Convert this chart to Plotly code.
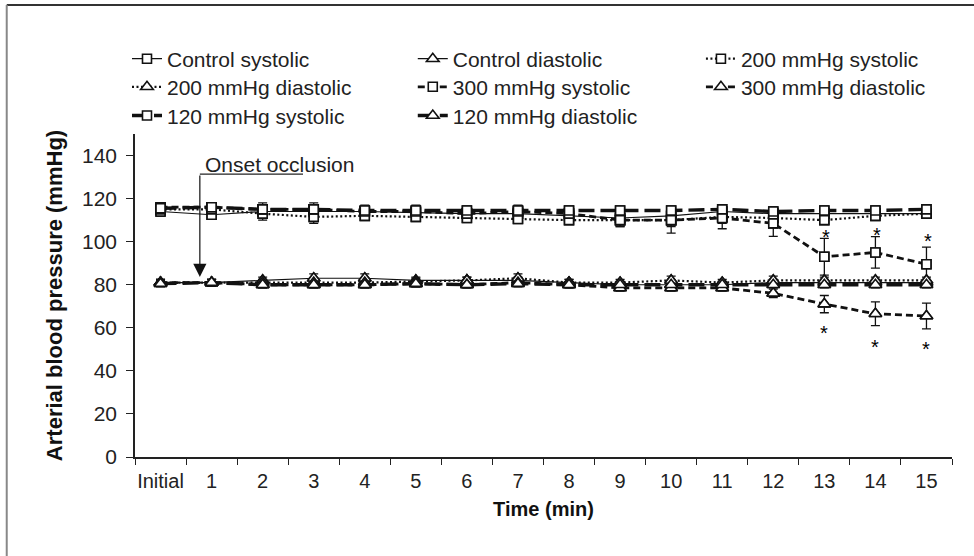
import plotly.graph_objects as go

categories = ["Initial"] + [str(i) for i in range(1, 16)]

ctrl_sys = [114, 112.5, 114, 114, 114, 113.5, 113, 113, 112, 111, 112, 114, 113, 113, 113, 113]
ctrl_sys_err = [2, 2, 2, 2, 2, 2, 2, 2, 2, 2, 3, 2, 2, 2, 2, 2]
ctrl_dia = [81, 81, 82, 83, 83, 82, 82, 82, 81, 80, 80, 80, 81, 81, 81, 81]
ctrl_dia_err = [1.5, 1.5, 1.5, 2, 2, 1.5, 1.5, 1.5, 1.5, 1.5, 1.5, 1.5, 1.5, 1.5, 1.5, 1.5]

s200_sys = [115, 115, 113, 111.5, 112, 111.5, 111, 110.5, 110, 110, 110, 111.5, 111, 110, 112, 113]
s200_sys_err = [2, 3, 3, 3, 2, 2, 2, 2, 2, 3, 3, 3, 2, 2, 2, 2]
s200_dia = [81, 81, 81, 81, 81, 81.5, 82, 83, 81, 81, 82, 81, 82, 82, 82, 82]
s200_dia_err = [1.5, 1.5, 1.5, 2, 2, 1.5, 1.5, 2, 1.5, 1.5, 2, 1.5, 2, 1.5, 1.5, 1.5]

s300_sys = [116, 116, 115, 115, 114, 114, 113, 114, 113, 110, 110, 111, 108.5, 93, 95, 89.5]
s300_sys_err = [2, 2, 3, 3, 3, 3, 3, 3, 3, 3, 6, 5, 6, 8.5, 7.3, 8]
s300_dia = [81, 81, 80, 80, 80, 80.5, 80, 81, 80, 78.5, 78.5, 78.5, 76, 71, 66.5, 65.5]
s300_dia_err = [1.5, 1.5, 1.5, 1.5, 1.5, 1.5, 1.5, 1.5, 1.5, 1.5, 1.5, 1.5, 2, 4, 5.5, 6]

s120_sys = [115.5, 116, 115, 115, 114.5, 114.5, 114.5, 114.5, 114.5, 114.5, 114.5, 115, 114, 114.5, 114.5, 115]
s120_sys_err = [2, 2, 2, 2, 2, 2, 2, 2, 2, 2, 2, 2, 2, 2, 2, 2]
s120_dia = [80.5, 81, 80, 80, 80, 80.5, 80, 80.5, 80, 80, 80, 80, 80, 80, 80, 80]
s120_dia_err = [1.5] * 16

star_cats = ["13", "14", "15"]
star_sys_y = [104.5, 105.5, 102.5]
star_dia_y = [60, 53.5, 52.5]

DOT = "2px,2.5px"
DASH = "7px,4px"
LONGDASH = "16px,6px"

series = [
    ("Control systolic", ctrl_sys, ctrl_sys_err, "square", "solid", 1.2),
    ("Control diastolic", ctrl_dia, ctrl_dia_err, "triangle-up", "solid", 1.2),
    ("200 mmHg systolic", s200_sys, s200_sys_err, "square", DOT, 2.2),
    ("200 mmHg diastolic", s200_dia, s200_dia_err, "triangle-up", DOT, 2.2),
    ("300 mmHg systolic", s300_sys, s300_sys_err, "square", DASH, 2.8),
    ("300 mmHg diastolic", s300_dia, s300_dia_err, "triangle-up", DASH, 2.8),
    ("120 mmHg systolic", s120_sys, s120_sys_err, "square", LONGDASH, 3.4),
    ("120 mmHg diastolic", s120_dia, s120_dia_err, "triangle-up", LONGDASH, 3.4),
]

FONT = "Liberation Sans, Arial, sans-serif"

# legend grid: 3 columns x 3 rows (paper coordinates)
LEG_COL_X = [-0.0098, 0.340, 0.6927]
LEG_ROW_Y = [1.232, 1.145, 1.056]

def msize(sym):
    return 11 if "triangle" in sym else 9

fig = go.Figure()
legend_layouts = {}
for i, (name, y, err, sym, dash, lw) in enumerate(series):
    leg_id = "legend" if i == 0 else f"legend{i + 1}"
    legend_layouts[leg_id] = dict(
        orientation="h", x=LEG_COL_X[i % 3], y=LEG_ROW_Y[i // 3],
        xanchor="left", yanchor="middle", bgcolor="rgba(0,0,0,0)",
        font=dict(size=21, color="#222", family=FONT))
    fig.add_trace(go.Scatter(
        x=categories, y=y, name=name, mode="lines+markers",
        line=dict(color="#111", width=lw, dash=dash),
        marker=dict(symbol=sym, size=msize(sym),
                    color="white", line=dict(color="#111", width=1.6)),
        error_y=dict(type="data", array=err, visible=True, color="#111",
                     thickness=1.3, width=4.5),
        legend=leg_id,
    ))

# white-filled markers drawn again on top so that no line crosses a marker
for name, y, err, sym, dash, lw in series:
    fig.add_trace(go.Scatter(
        x=categories, y=y, mode="markers", showlegend=False, hoverinfo="skip",
        marker=dict(symbol=sym, size=msize(sym),
                    color="white", line=dict(color="#111", width=1.6)),
    ))

annotations = []
for c, ys in zip(star_cats, star_sys_y):
    annotations.append(dict(x=c, y=ys, text="*", showarrow=False, xref="x", yref="y",
                            font=dict(size=20, color="#000", family=FONT), yshift=-5, xshift=2))
for c, yd in zip(star_cats, star_dia_y):
    annotations.append(dict(x=c, y=yd, text="*", showarrow=False, xref="x", yref="y",
                            font=dict(size=20, color="#000", family=FONT), yshift=-5))

# Onset occlusion label and arrow
ARROW_X = 0.77
ARROW_TOP = 131.4
ARROW_TIP = 83.6
LINE_END_X = 2.79
annotations.append(dict(x=ARROW_X, y=ARROW_TIP, ax=ARROW_X, ay=ARROW_TOP, axref="x", ayref="y",
                        xref="x", yref="y", text="", showarrow=True, arrowhead=2,
                        arrowsize=2.2, arrowwidth=1.2, arrowcolor="#111"))
annotations.append(dict(x=ARROW_X + 0.07, y=135.8, text="Onset occlusion", showarrow=False,
                        xanchor="left", yanchor="middle", xref="x", yref="y",
                        font=dict(size=21, color="#222", family=FONT)))

shapes = [
    dict(type="line", xref="x", yref="y", x0=ARROW_X, x1=LINE_END_X, y0=ARROW_TOP, y1=ARROW_TOP,
         line=dict(color="#222", width=1.2)),
    dict(type="line", xref="paper", yref="paper", x0=-0.157, x1=1.1, y0=1.399, y1=1.399,
         line=dict(color="#333", width=2)),
    dict(type="line", xref="paper", yref="paper", x0=-0.157, x1=-0.157, y0=1.399, y1=-0.4,
         line=dict(color="#888", width=2)),
]

fig.update_layout(
    width=974, height=556,
    margin=dict(l=135, r=22, t=134, b=99),
    paper_bgcolor="white", plot_bgcolor="white",
    showlegend=True,
    xaxis=dict(type="category", categoryorder="array", categoryarray=categories,
               range=[-0.5, 15.5], showline=True, linecolor="#222", linewidth=1.5,
               ticks="outside", tickson="boundaries", ticklen=6, tickcolor="#222",
               showgrid=False, zeroline=False, ticklabelstandoff=5, tickangle=0,
               tickfont=dict(size=20, color="#222", family=FONT),
               title=dict(text="<b>Time (min)</b>", font=dict(size=20, color="#111", family=FONT),
                          standoff=11)),
    yaxis=dict(range=[0, 150], tickvals=[0, 20, 40, 60, 80, 100, 120, 140],
               showline=True, linecolor="#222", linewidth=1.5,
               ticks="outside", ticklen=7, tickcolor="#222", showgrid=False, zeroline=False,
               ticklabelstandoff=5,
               tickfont=dict(size=21, color="#222", family=FONT),
               title=dict(text="<b>Arterial blood pressure (mmHg)</b>",
                          font=dict(size=22, color="#111", family=FONT), standoff=13)),
    annotations=annotations,
    shapes=shapes,
    **legend_layouts,
)

fig.write_html("out.html")
